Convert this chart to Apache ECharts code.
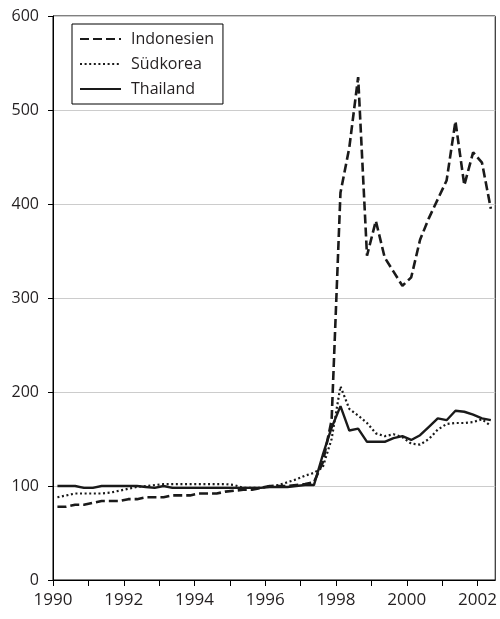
<!DOCTYPE html>
<html>
<head>
<meta charset="utf-8">
<script src="https://cdn.jsdelivr.net/npm/echarts@6/dist/echarts.min.js"></script>
<style>
html,body{margin:0;padding:0;background:#fff;}
#chart{width:500px;height:619px;}
</style>
</head>
<body>
<div id="chart"></div>
<script>
// Quarterly data, 1990Q1 .. 2002Q2 (plotted at mid-quarter)
const startYear = 1990;
const seriesNames = ['Indonesien', 'Südkorea', 'Thailand'];
const indonesien = [78,78,80,80,82,84,84,84,86,86,88,88,88,90,90,90,92,92,92,94,95,96,96,98,100,100,100,101,102,104,125,170,412,460,535,345,382,343,328,313,322,362,385,405,425,488,420,455,444,395];
const suedkorea  = [88,90,92,92,92,92,93,95,97,99,100,101,102,102,102,102,102,102,102,102,101,98,98,98,100,101,104,107,111,114,120,150,206,182,175,167,156,153,155,152,145,144,150,160,166,167,167,168,171,164];
const thailand   = [100,100,100,98,98,100,100,100,100,100,99,98,100,98,98,98,98,98,98,98,98,98,98,98,99,99,99,100,101,101,133,162,185,159,161,147,147,147,151,153,149,154,163,172,170,180,179,176,172,170];
const yTicks = [0,100,200,300,400,500,600];

function toPoints(vals){
  return vals.map((v,i)=>[startYear + 0.125 + 0.25*i, v]);
}

const chart = echarts.init(document.getElementById('chart'), null, {renderer:'canvas'});
const font = '"Open Sans", sans-serif';
const txt = '#231f20';
chart.setOption({
  animation:false,
  backgroundColor:'#fff',
  grid:{left:53, top:16, right:4, bottom:39, show:true, borderColor:'#000', borderWidth:1, containLabel:false},
  legend:{
    orient:'vertical', left:72, top:24,
    data:seriesNames,
    itemWidth:41, itemHeight:10, itemGap:9,
    padding:[7,9,7,7],
    backgroundColor:'#fff', borderColor:'#000', borderWidth:1,
    itemStyle:{color:'rgba(0,0,0,0)', borderWidth:0, opacity:0},
    textStyle:{fontFamily:font, fontSize:16, color:txt, padding:[0,0,0,5]}
  },
  xAxis:{
    type:'value', min:1990, max:2002.5, interval:1,
    axisLine:{show:true, lineStyle:{color:'#000', width:1}},
    axisTick:{show:true, inside:false, length:6, lineStyle:{color:'#000'}},
    axisLabel:{
      fontFamily:font, fontSize:17, color:txt, margin:12,
      formatter:function(v){ return (Number.isInteger(v) && v%2===0) ? String(v) : ''; },
      showMaxLabel:false
    },
    splitLine:{show:false}
  },
  yAxis:{
    type:'value', min:yTicks[0], max:yTicks[yTicks.length-1], interval:100,
    axisLine:{show:true, lineStyle:{color:'#000', width:1}},
    axisTick:{show:true, inside:false, length:5, lineStyle:{color:'#000'}},
    axisLabel:{fontFamily:font, fontSize:16, color:txt, margin:14},
    splitLine:{show:true, lineStyle:{color:'#cccccc', width:1}}
  },
  series:[
    {name:seriesNames[0], type:'line', data:toPoints(indonesien), symbol:'none', showSymbol:false,
     lineStyle:{color:'#1a1a1a', width:2.6, type:[9,4]}, itemStyle:{color:'#1a1a1a'}, z:3},
    {name:seriesNames[1], type:'line', data:toPoints(suedkorea), symbol:'none', showSymbol:false,
     lineStyle:{color:'#1a1a1a', width:2.2, type:[2,2.6]}, itemStyle:{color:'#1a1a1a'}, z:2},
    {name:seriesNames[2], type:'line', data:toPoints(thailand), symbol:'none', showSymbol:false,
     lineStyle:{color:'#1a1a1a', width:2.4, type:'solid'}, itemStyle:{color:'#1a1a1a'}, z:4}
  ]
});
</script>
</body>
</html>
